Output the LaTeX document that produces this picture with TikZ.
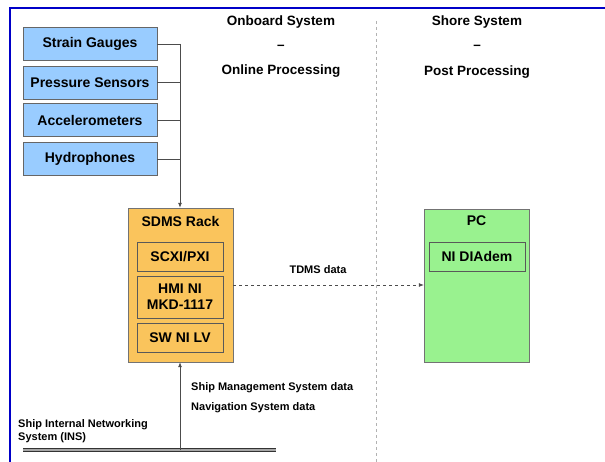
\documentclass[tikz,border=0pt]{standalone}
\usepackage{fontspec}
\setmainfont{Liberation Sans}
\usetikzlibrary{arrows.meta}
\definecolor{sensorblue}{RGB}{153,204,255}
\definecolor{rackorange}{RGB}{250,196,92}
\definecolor{pcgreen}{RGB}{153,242,143}
\definecolor{framblue}{RGB}{0,0,200}
\tikzset{
  sensor/.style={draw=black!60, fill=sensorblue, minimum width=134pt, minimum height=33pt, inner sep=0pt, font=\fontsize{14}{15}\selectfont\bfseries},
  bigbox/.style={draw=black!55, minimum width=105pt, inner sep=0pt},
  inbox/.style={draw=black!65, minimum width=86pt, inner sep=0pt, align=center, font=\fontsize{14}{16}\selectfont\bfseries},
  title/.style={inner sep=0pt, font=\fontsize{14}{15}\selectfont\bfseries},
  head/.style={inner sep=0pt, font=\fontsize{13.5}{15}\selectfont\bfseries},
  small/.style={inner sep=0pt, anchor=west, font=\fontsize{11}{13.5}\selectfont\bfseries},
  conn/.style={draw=black!70, line width=0.8pt},
  arr/.style={conn, -{Latex[length=5pt,width=4pt]}},
}
\begin{document}
\begin{tikzpicture}[x=1pt,y=-1pt]
\useasboundingbox (0,0) rectangle (605,462);
% frame
\draw[framblue, line width=2pt] (10,462) -- (10,8.5) -- (605,8.5);
% separator
\draw[black!30, dashed, line width=0.8pt] (376,21) -- (376,462);
% headers
\node[head] (h1) at (281,22) {Onboard System};
\node[head] (h1d) at (281,47) {–};
\node[head] (h1b) at (281,71) {Online Processing};
\node[head] (h2) at (477,22) {Shore System};
\node[head] (h2d) at (477,47) {–};
\node[head] (h2b) at (477,72) {Post Processing};
% sensors
\node[sensor] (sg) at (90,44) {Strain Gauges};
\node[sensor] (ps) at (90,82.5) {Pressure Sensors};
\node[sensor] (ac) at (90,120) {Accelerometers};
\node[sensor] (hy) at (90,159) {Hydrophones};
% SDMS rack
\node[bigbox, fill=rackorange, minimum height=154pt] (sdms) at (180.5,285) {};
\node[title] (sdmsT) at (180.5,221) {SDMS Rack};
\node[inbox, fill=rackorange, minimum height=29pt] (scxi) at (180,256.5) {SCXI/PXI};
\node[inbox, fill=rackorange, minimum height=42pt] (hmi) at (180,297) {HMI NI\\MKD-1117};
\node[inbox, fill=rackorange, minimum height=29pt] (sw) at (180,337.5) {SW NI LV};
% PC
\node[bigbox, fill=pcgreen, minimum height=153pt] (pc) at (476.5,285.5) {};
\node[title] (pcT) at (476.5,221) {PC};
\node[inbox, fill=pcgreen, minimum width=96pt, minimum height=29pt] (dia) at (477,256.5) {NI DIAdem};
% bus
\coordinate (bus) at (180,44);
\draw[conn] (sg.east) -- (bus);
\draw[conn] (ps.east) -- (ps.east -| bus);
\draw[conn] (ac.east) -- (ac.east -| bus);
\draw[conn] (hy.east) -- (hy.east -| bus);
\draw[arr] (bus) -- (sdms.north -| bus);
% TDMS
\draw[conn, dashed, line width=0.7pt, -{Latex[length=5pt,width=4pt]}] (sdms.east |- 0,285) -- (pc.west |- 0,285);
\node[small, anchor=center] (tdms) at (318,270) {TDMS data};
% INS
\coordinate (insL) at (23,450);
\coordinate (insR) at (276,450);
\coordinate (insA) at (180,450);
\draw[black!80, line width=4.5pt] (insL) -- (insR);
\draw[black!35, line width=1.8pt] (insL) -- (insR);
\draw[arr] (insA) -- (sdms.south -| insA);
\node[small] (smsd) at (191,388) {Ship Management System data};
\node[small] (nsd) at (191,408) {Navigation System data};
\node[small, align=left] (ins) at (18,431) {Ship Internal Networking\\System (INS)};
\end{tikzpicture}
\end{document}
